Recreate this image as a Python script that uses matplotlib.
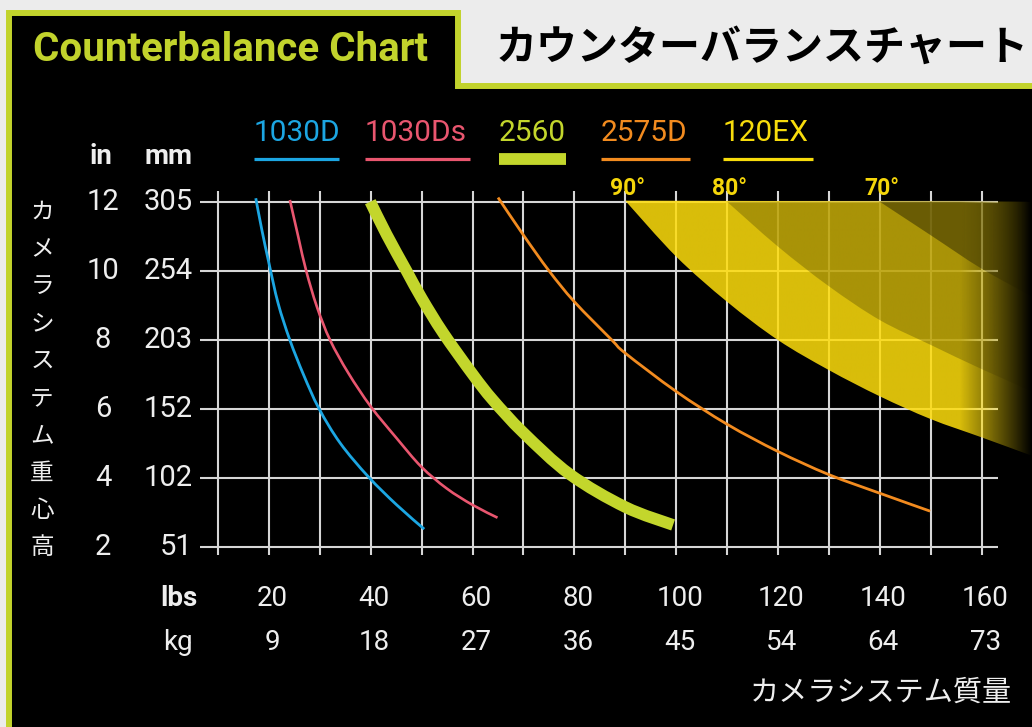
import numpy as np
import matplotlib
matplotlib.use("Agg")
import matplotlib.pyplot as plt
import matplotlib.transforms as mtrans
from matplotlib.patches import Polygon, PathPatch
from matplotlib.path import Path
from matplotlib.colors import to_rgb

W, H = 1032, 727
GREEN = "#c2d32c"
GRID = "#d6d6d6"
TXT = "#eeeeee"
NUM = ["Roboto", "DejaVu Sans"]
JP = ["Noto Sans CJK JP", "DejaVu Sans"]

# legend / series
names = ["1030D", "1030Ds", "2560", "2575D", "120EX"]
colors = ["#1ca6e2", "#e9566f", "#c3d62c", "#f28b1f", "#f7dc0c"]

# weight (lbs) vs centre of gravity height (in)
d1030_lbs = [17.4, 18.6, 20.0, 21.8, 24.1, 26.8, 29.8, 34.0, 39.5, 45.1, 50.5]
d1030_in = [12.1, 11.18, 10.21, 9.05, 7.99, 6.98, 6.01, 5.0, 4.03, 3.21, 2.51]

d1030s_lbs = [24.1, 25.8, 27.3, 29.4, 32.0, 35.6, 40.0, 45.1, 49.9, 54.9, 60.0, 64.9]
d1030s_in = [12.05, 10.95, 10.0, 8.96, 7.99, 7.03, 6.06, 5.14, 4.32, 3.69, 3.21, 2.84]

d2560_lbs = [39.9, 43.1, 47.0, 50.0, 54.2, 60.0, 64.0, 70.0, 79.1, 90.0, 99.4]
d2560_in = [12.0, 11.05, 10.0, 9.2, 8.2, 7.0, 6.25, 5.3, 4.1, 3.15, 2.63]

d2575_lbs = [65.0, 70.0, 75.0, 80.0, 87.3, 90.0, 100.0, 110.0, 120.0, 130.0, 140.0, 149.9]
d2575_in = [12.12, 11.03, 10.0, 9.1, 8.0, 7.61, 6.5, 5.55, 4.76, 4.09, 3.55, 3.03]

# 120EX tilt limits
deg90_lbs = [90, 100, 110, 120, 130, 140, 150, 160, 170]
deg90_in = [12.03, 10.41, 9.10, 7.99, 7.12, 6.36, 5.70, 5.17, 4.63]
deg80_lbs = [110, 120, 130, 140, 150, 160, 170]
deg80_in = [12.0, 10.7, 9.55, 8.57, 7.85, 7.15, 6.5]
deg70_lbs = [140, 150, 160, 170]
deg70_in = [12.0, 11.03, 10.06, 9.25]
deg_labels = ["90°", "80°", "70°"]

in_ticks = [2, 4, 6, 8, 10, 12]
mm_ticks = [51, 102, 152, 203, 254, 305]
lbs_ticks = [20, 40, 60, 80, 100, 120, 140, 160]
kg_ticks = [9, 18, 27, 36, 45, 54, 64, 73]


def bezier_through(xv, yv):
    # cubic bezier vertices through the points (catmull-rom tangents)
    p = np.column_stack([xv, yv]).astype(float)
    ext = np.vstack([p[0], p, p[-1]])
    verts, codes = [p[0]], [Path.MOVETO]
    for i in range(len(p) - 1):
        a, b, c, d = ext[i], ext[i + 1], ext[i + 2], ext[i + 3]
        verts += [b + (c - a) / 6, c - (d - b) / 6, c]
        codes += [Path.CURVE4] * 3
    return verts, codes


def smooth_path(xv, yv):
    verts, codes = bezier_through(xv, yv)
    return Path(verts, codes)


def zone_path(xv, yv):
    verts, codes = bezier_through(xv, yv)
    verts += [(172, yv[-1]), (172, 12.0), (xv[0], yv[0])]
    codes += [Path.LINETO, Path.LINETO, Path.CLOSEPOLY]
    return Path(verts, codes)


fig = plt.figure(figsize=(W / 100, H / 100), dpi=100)
fig.patch.set_facecolor("#ececec")

# background panel in pixel coordinates
bg = fig.add_axes([0, 0, 1, 1])
bg.set_xlim(0, W)
bg.set_ylim(H, 0)
bg.axis("off")
bg.add_patch(Polygon([(9, 13), (458, 13), (458, 86), (W + 10, 86), (W + 10, H + 10), (9, H + 10)],
                     closed=True, fc="black", ec=GREEN, lw=4.3, joinstyle="miter"))
bg.text(33, 50, "Counterbalance Chart", color=GREEN, fontsize=29, fontweight="bold",
        family=NUM, ha="left", va="center")
bg.text(496, 48, "カウンターバランスチャート", color="black", fontsize=29.5, fontweight="bold",
        family=JP, ha="left", va="center")

for i, ch in enumerate("カメラシステム重心高"):
    bg.text(42, 212.5 + i * 37.2, ch, color=TXT, fontsize=17, family=JP, ha="center", va="center")
bg.text(1012, 693, "カメラシステム質量", color=TXT, fontsize=21, family=JP, ha="right", va="center")

bg.text(101, 157, "in", color=TXT, fontsize=20, fontweight="bold", family=NUM, ha="center", va="center")
bg.text(193, 157, "mm", color=TXT, fontsize=20, fontweight="bold", family=NUM, ha="right", va="center")
bg.text(198, 598, "lbs", color=TXT, fontsize=20, fontweight="bold", family=NUM, ha="right", va="center")
bg.text(193, 643, "kg", color=TXT, fontsize=20, family=NUM, ha="right", va="center")

# legend
leg_x0 = [254, 365, 499, 601, 723]
leg_x1 = [339, 470, 566, 690, 813]
leg_lw = [2.3, 2.3, 8.5, 2.3, 2.3]
for name, c, x0, x1, lw in zip(names, colors, leg_x0, leg_x1, leg_lw):
    bg.text(x0, 133, name, color=c, fontsize=21.5, family=NUM, ha="left", va="center")
    bg.plot([x0, x1], [159, 159], color=c, lw=lw, solid_capstyle="butt")

# chart axes
ax = fig.add_axes([190 / W, 1 - 560 / H, (W - 190) / W, (560 - 185) / H])
ax.patch.set_alpha(0)
ax.axis("off")

ax.hlines(in_ticks, 6.44, 163.24, colors=GRID, lw=1.5, zorder=1)
ax.vlines(np.arange(10, 161, 10), 1.757, 12.31, colors=GRID, lw=1.5, zorder=1)

# yellow 120EX zone, darker above the 80 and 70 degree limits, fading out to the right
xs = np.linspace(88, 172, 500)
fade = np.clip((170 - xs) / (170 - 155.8), 0, 1)
layers = [
    (deg90_lbs, deg90_in, "#fedd0c", 0.86),
    (deg80_lbs, deg80_in, "black", 0.22),
    (deg70_lbs, deg70_in, "black", 0.37),
]
for lx, ly, col, a in layers:
    rgba = np.zeros((1, len(xs), 4))
    rgba[..., :3] = to_rgb(col)
    rgba[..., 3] = a * fade
    im = ax.imshow(rgba, extent=(88, 172, 1.6, 12.5), aspect="auto", origin="lower",
                   interpolation="bilinear", zorder=2)
    zone = PathPatch(zone_path(lx, ly), fc="none", ec="none")
    ax.add_patch(zone)
    im.set_clip_path(zone)

for lab, x0 in zip(deg_labels, [deg90_lbs[0], deg80_lbs[0], deg70_lbs[0]]):
    ax.text(x0 + 0.5, 12.39, lab, color="#f5d60a", fontsize=16.5, fontweight="bold",
            family=NUM, ha="center", va="center")

series = [(d1030_lbs, d1030_in, 2.0), (d1030s_lbs, d1030s_in, 1.9),
          (d2560_lbs, d2560_in, 8.4), (d2575_lbs, d2575_in, 2.0)]
for (xv, yv, lw), c in zip(series, colors):
    ax.add_patch(PathPatch(smooth_path(xv, yv), fc="none", ec=c, lw=lw,
                           capstyle="butt", joinstyle="round", zorder=3))

# tick labels
tr_y = mtrans.blended_transform_factory(bg.transData, ax.transData)
for iv, mv in zip(in_ticks, mm_ticks):
    ax.text(103, iv, str(iv), transform=tr_y, color=TXT, fontsize=21, family=NUM, ha="center", va="center")
    ax.text(193, iv, str(mv), transform=tr_y, color=TXT, fontsize=21, family=NUM, ha="right", va="center")
tr_x = mtrans.blended_transform_factory(ax.transData, bg.transData)
for lv, kv in zip(lbs_ticks, kg_ticks):
    ax.text(lv + 0.7, 598, str(lv), transform=tr_x, color=TXT, fontsize=20, family=NUM, ha="center", va="center")
    ax.text(lv + 0.7, 643, str(kv), transform=tr_x, color=TXT, fontsize=20, family=NUM, ha="center", va="center")

ax.set_xlim(4.477, 169.92)
ax.set_ylim(1.614, 12.484)

fig.savefig("out.png", dpi=100, facecolor=fig.get_facecolor())
